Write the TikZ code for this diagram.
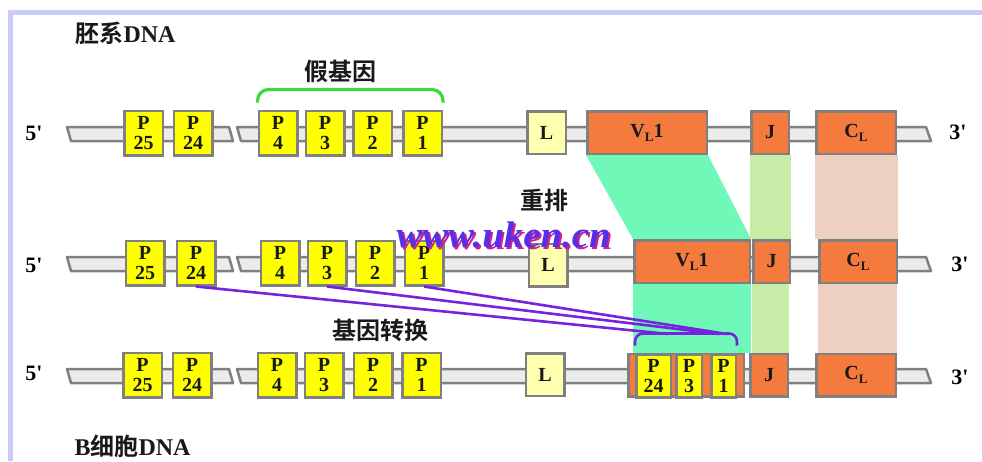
\documentclass[tikz,border=0pt]{standalone}
\usepackage{fontspec}
\setmainfont{Liberation Serif}
\newfontfamily\cjk{Noto Sans CJK SC Bold}
\usetikzlibrary{calc}

\definecolor{pyellow}{HTML}{FFFF00}
\definecolor{lyellow}{HTML}{FFFFB0}
\definecolor{vorange}{HTML}{F47A3E}
\definecolor{boxgray}{HTML}{808080}
\definecolor{strandfill}{HTML}{EBEBEB}
\definecolor{vteal}{HTML}{6FF8B8}
\definecolor{jgreen}{HTML}{C8ECA8}
\definecolor{cpink}{HTML}{EDD0C2}
\definecolor{convpurple}{HTML}{7622DE}
\definecolor{bracegreen}{HTML}{3ADB3A}
\definecolor{framelav}{HTML}{CACCF8}
\definecolor{wmblue}{HTML}{5530E8}
\definecolor{wmpink}{HTML}{D0208C}

\pgfdeclarelayer{bg}
\pgfsetlayers{bg,main}

\newcommand{\lsub}[1]{\raisebox{-0.45ex}{\fontsize{13}{13}\selectfont #1}}

\begin{document}
\begin{tikzpicture}[x=1pt, y=-1pt, font=\bfseries,
    gene/.style={draw=boxgray, line width=2.5pt, inner sep=0pt, align=center, text=black!90,
      font=\bfseries\fontsize{20}{20.5}\selectfont},
    pbox/.style={gene, fill=pyellow, minimum width=38.5pt, minimum height=44.5pt},
    lbox/.style={gene, fill=lyellow, minimum width=38.5pt, minimum height=42.5pt},
    obox/.style={gene, fill=vorange, minimum height=42.5pt},
    strand/.style={draw=boxgray, line width=2.5pt, fill=strandfill, line join=round},
    endlbl/.style={font=\bfseries\fontsize{22}{22}\selectfont},
    cn/.style={font=\cjk\fontsize{24}{24}\selectfont, text=black!90},
    conv/.style={draw=convpurple, line width=2.6pt},
    wmtext/.style={font=\bfseries\itshape\fontsize{37}{37}\selectfont, xscale=1.05}]
\useasboundingbox (0,0) rectangle (982,461);
\draw[framelav, line width=5pt] (10.5,461) -- (10.5,12.5) -- (982,12.5);

% DNA strands
\foreach \y in {134,264,376}{
  \draw[strand] (67,\y-7) -- (229,\y-7) -- (233,\y+7) -- (71,\y+7) -- cycle;
  \draw[strand] (237,\y-7) -- (926,\y-7) -- (931,\y+7) -- (241,\y+7) -- cycle;
}

% germline DNA
\node[pbox] (p25a) at (143.5,133) {P\\25};
\node[pbox] (p24a) at (193,133) {P\\24};
\node[pbox] (p4a) at (278,133) {P\\4};
\node[pbox] (p3a) at (325,133) {P\\3};
\node[pbox] (p2a) at (372.5,133) {P\\2};
\node[pbox] (p1a) at (422.5,133) {P\\1};
\node[lbox] (la) at (546.5,132.5) {L};
\node[obox, minimum width=119.5pt] (va) at (647,132.5) {V\lsub{L}1};
\node[obox, minimum width=37.5pt] (ja) at (770,132.5) {J};
\node[obox, minimum width=79.5pt] (ca) at (856,132.5) {C\lsub{L}};

% rearranged
\node[pbox] (p25b) at (145,263) {P\\25};
\node[pbox] (p24b) at (196,263) {P\\24};
\node[pbox] (p4b) at (280,263) {P\\4};
\node[pbox] (p3b) at (327,263) {P\\3};
\node[pbox] (p2b) at (375,263) {P\\2};
\node[pbox] (p1b) at (424,263) {P\\1};
\node[lbox] (lb) at (548,265) {L};
\node[obox, minimum width=115.5pt] (vb) at (692,261.5) {V\lsub{L}1};
\node[obox, minimum width=36.5pt] (jb) at (771.5,261.5) {J};
\node[obox, minimum width=77.5pt] (cb) at (858,261.5) {C\lsub{L}};

% B cell DNA
\node[pbox] (p25c) at (142.5,375) {P\\25};
\node[pbox] (p24c) at (192,375) {P\\24};
\node[pbox] (p4c) at (277,375) {P\\4};
\node[pbox] (p3c) at (324,375) {P\\3};
\node[pbox] (p2c) at (373,375) {P\\2};
\node[pbox] (p1c) at (421.5,375) {P\\1};
\node[lbox] (lc) at (545,374.5) {L};
\node[obox, minimum width=115.5pt] (vc) at (686,375) {};
\node[pbox, minimum width=34.5pt, minimum height=42.5pt] (g24) at (653.5,376) {P\\24};
\node[pbox, minimum width=25.5pt, minimum height=42.5pt] (g3) at (689,376) {P\\3};
\node[pbox, minimum width=24.5pt, minimum height=42.5pt] (g1) at (723.5,376) {P\\1};
\node[obox, minimum width=37.5pt] (jc) at (769,375) {J};
\node[obox, minimum width=79.5pt] (cc) at (856,375) {C\lsub{L}};

% segment bands
\begin{pgfonlayer}{bg}
\fill[vteal] (va.south west) -- (va.south east) -- (vb.north east) -- (vb.north west) -- cycle;
\fill[vteal] (vb.south west) rectangle (vb.east |- vc.north);
\fill[jgreen] (ja.south west) rectangle (jb.north east);
\fill[jgreen] (jb.south west) rectangle (jc.north east);
\fill[cpink] (ca.south west) rectangle (cb.north east);
\fill[cpink] (cb.south west) rectangle (cc.north east);
\end{pgfonlayer}

% ends
\node[endlbl] (f5a) at (34,133) {5\textquotesingle};
\node[endlbl] (f5b) at (34,265) {5\textquotesingle};
\node[endlbl] (f5c) at (34,373) {5\textquotesingle};
\node[endlbl] (f3a) at (958,132) {3\textquotesingle};
\node[endlbl] (f3b) at (960,264) {3\textquotesingle};
\node[endlbl] (f3c) at (960,377) {3\textquotesingle};

% labels
\node[cn, anchor=west] (germ) at (72,33) {胚系{\rmfamily\bfseries DNA}};
\node[cn, anchor=west] (bcell) at (71,446) {{\rmfamily\bfseries B}细胞{\rmfamily\bfseries DNA}};
\node[cn] (pseudo) at (340,71) {假基因};
\node[cn] (rearr) at (544,200) {重排};
\node[cn] (gconv) at (380,330) {基因转换};

% pseudogene brace
\draw[bracegreen, line width=3.2pt, rounded corners=11pt]
  ([yshift=7pt]p4a.north west) -- ([yshift=20pt]p4a.north west)
  -- ([yshift=20pt]p1a.north east) -- ([yshift=7pt]p1a.north east);

% gene conversion
\coordinate (t24) at (668,334);
\coordinate (t3) at (719,334);
\coordinate (t1) at (727,334);
\draw[conv] (p24b.south) -- (t24);
\draw[conv] (p3b.south) -- (t3);
\draw[conv] (p1b.south) -- (t1);
\draw[conv, rounded corners=8pt]
  ([yshift=8pt]g24.north west) -- ([yshift=20pt]g24.north west)
  -- ([yshift=20pt]g1.north east) -- ([yshift=8pt]g1.north east);

% watermark
\node[wmtext, text=wmpink] (wms) at (505.5,236.5) {www.uken.cn};
\node[wmtext, text=wmblue] (wm) at (503.5,234.5) {www.uken.cn};
\end{tikzpicture}
\end{document}
